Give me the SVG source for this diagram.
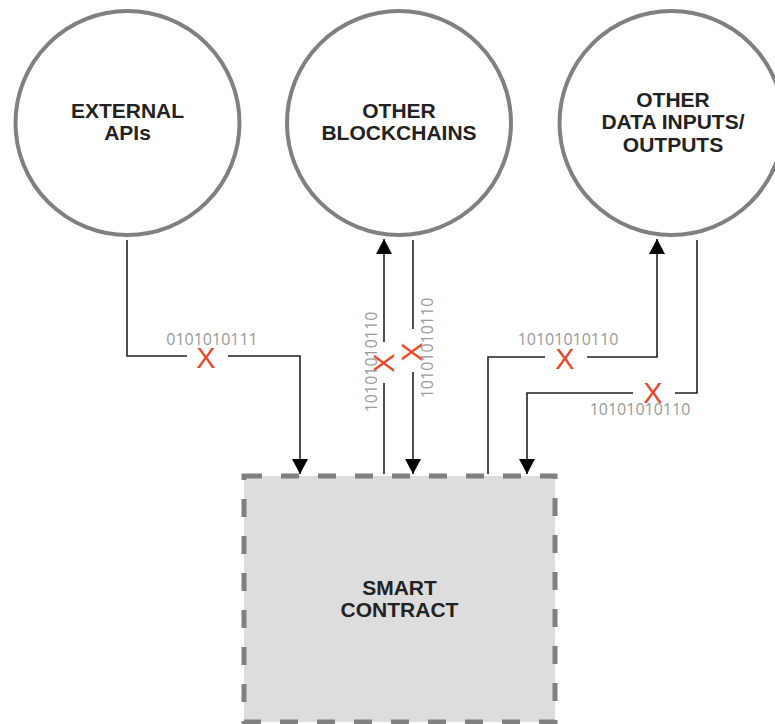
<svg xmlns="http://www.w3.org/2000/svg" width="775" height="724" viewBox="0 0 775 724">
<style>
.node{fill:#ffffff;stroke:#808080;stroke-width:4}
.box{fill:#dddddd;stroke:#808080;stroke-width:5;stroke-dasharray:18 19}
.title{font-family:"Liberation Sans",Arial,sans-serif;font-weight:bold;font-size:21px;fill:#222222;text-anchor:middle}
.conn{fill:none;stroke:#222222;stroke-width:1.6}
.bits{font-family:"Open Sans","Liberation Sans",sans-serif;font-size:16px;fill:#9a9a9a;text-anchor:middle}
.cross{font-family:"Liberation Sans",Arial,sans-serif;font-size:29px;fill:#e8492c;text-anchor:middle}
</style>
<defs>
<marker id="arrow" markerUnits="userSpaceOnUse" markerWidth="16" markerHeight="16" viewBox="0 0 16 16" refX="15" refY="8" orient="auto">
<path d="M0,0 L15,8 L0,16 Z" fill="#000000"/>
</marker>
</defs>
<rect width="775" height="724" fill="#ffffff"/>
<g id="external-apis">
<circle class="node" cx="127.5" cy="123" r="112"/>
<text class="title" x="127.5" y="118">EXTERNAL</text>
<text class="title" x="127.5" y="140">APIs</text>
</g>
<g id="other-blockchains">
<circle class="node" cx="399" cy="123" r="112"/>
<text class="title" x="399" y="118">OTHER</text>
<text class="title" x="399" y="140">BLOCKCHAINS</text>
</g>
<g id="other-data">
<circle class="node" cx="671.5" cy="123" r="112"/>
<text class="title" x="673" y="107">OTHER</text>
<text class="title" x="673" y="129">DATA INPUTS/</text>
<text class="title" x="673" y="152">OUTPUTS</text>
</g>
<g id="smart-contract">
<rect class="box" x="244" y="476" width="311" height="246"/>
<text class="title" x="399.5" y="595">SMART</text>
<text class="title" x="399.5" y="617">CONTRACT</text>
</g>
<g id="connectors">
<path class="conn" d="M127,240 V356 H187"/>
<path class="conn" d="M228,356 H300 V474" marker-end="url(#arrow)"/>
<text class="bits" x="212" y="345">0101010111</text>
<text class="cross" x="206" y="368">X</text>

<path class="conn" d="M384,474 V383"/>
<path class="conn" d="M384,342 V239" marker-end="url(#arrow)"/>
<text class="bits" transform="translate(377,362) rotate(-90)">10101010110</text>
<text class="cross" transform="translate(384,363) rotate(-90)" y="10">X</text>

<path class="conn" d="M413,240 V329"/>
<path class="conn" d="M413,372 V474" marker-end="url(#arrow)"/>
<text class="bits" transform="translate(433,348) rotate(-90)">10101010110</text>
<text class="cross" transform="translate(412,352) rotate(-90)" y="10">X</text>

<path class="conn" d="M488,474 V357 H545"/>
<path class="conn" d="M587,357 H657 V239" marker-end="url(#arrow)"/>
<text class="bits" x="568" y="345">10101010110</text>
<text class="cross" x="565" y="369">X</text>

<path class="conn" d="M697,240 V393 H675"/>
<path class="conn" d="M633,393 H527 V474" marker-end="url(#arrow)"/>
<text class="bits" x="640" y="415">10101010110</text>
<text class="cross" x="653" y="403">X</text>
</g>
</svg>
